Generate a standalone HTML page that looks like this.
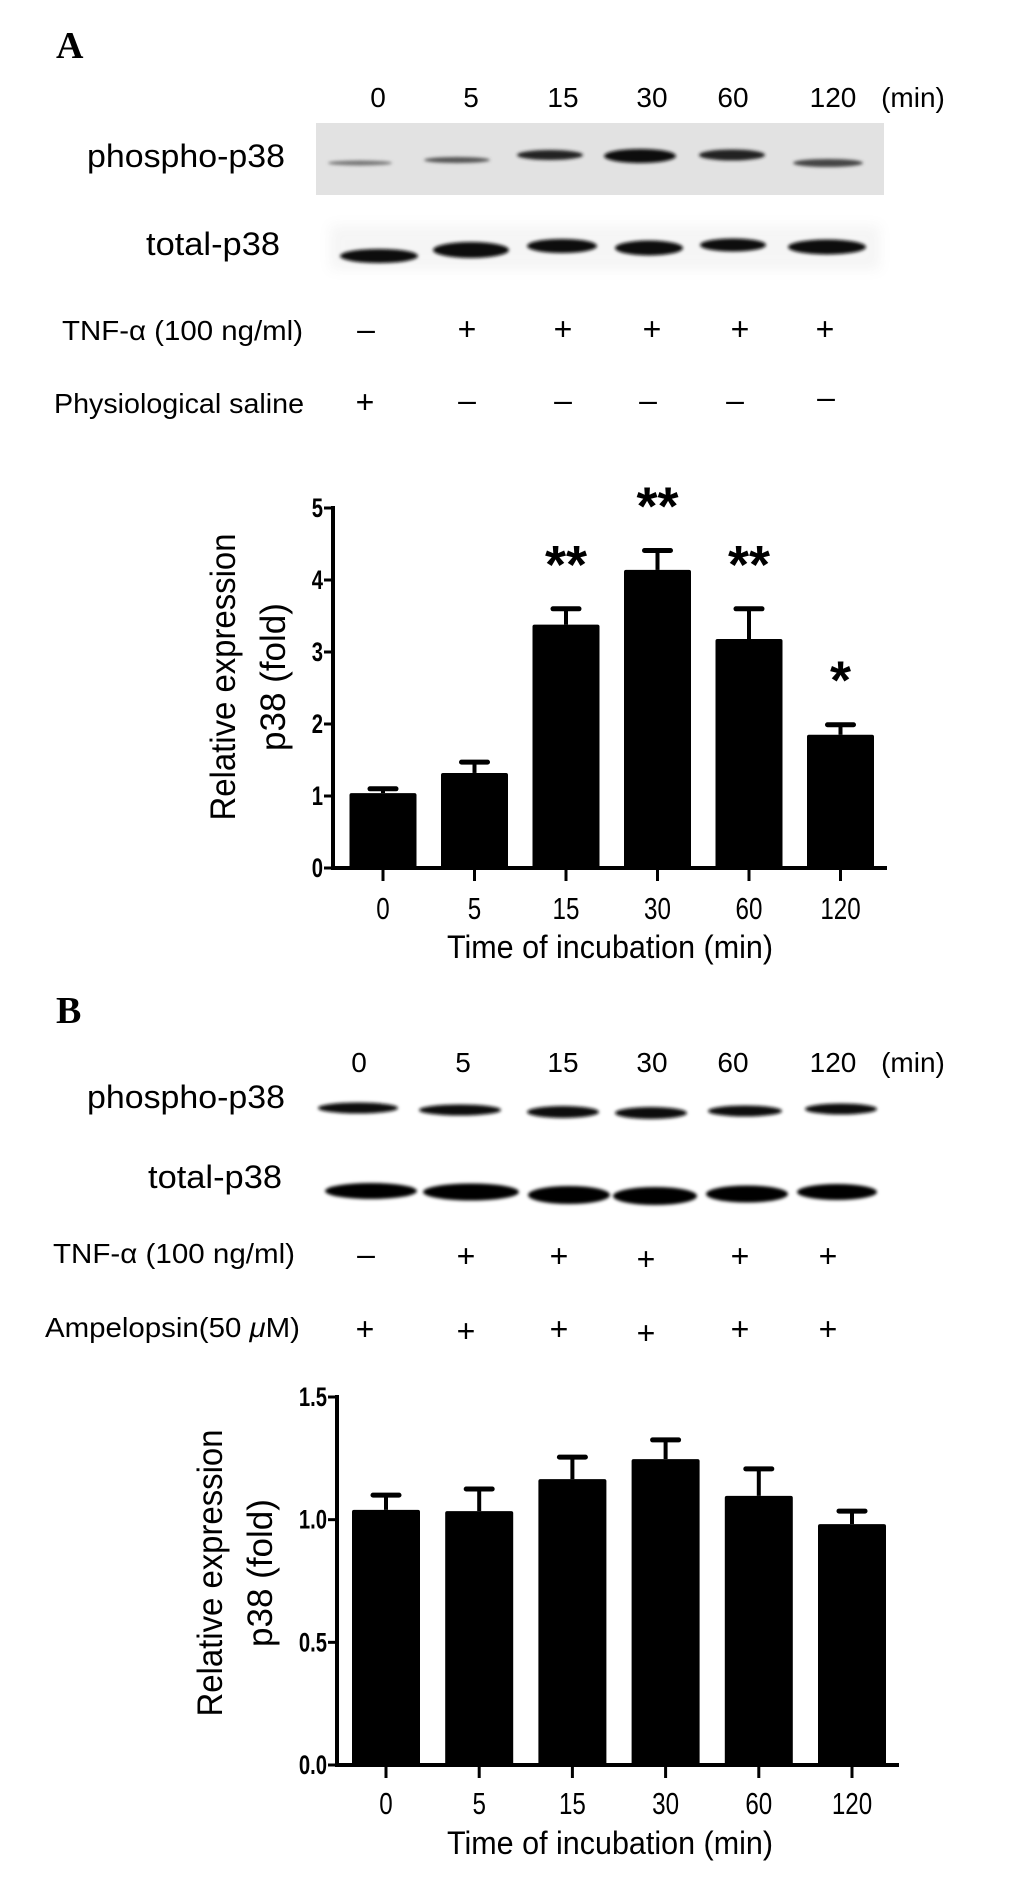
<!DOCTYPE html>
<html><head><meta charset="utf-8"><style>
html,body{margin:0;padding:0;background:#fff;}
svg{display:block;font-family:"Liberation Sans","DejaVu Sans",sans-serif;}
</style></head><body>
<svg id="fig" width="1033" height="1903" viewBox="0 0 1033 1903" xmlns="http://www.w3.org/2000/svg">
<defs>
<filter id="blur1" x="-20%" y="-200%" width="140%" height="500%"><feGaussianBlur stdDeviation="1.6"/></filter>
<filter id="blur2" x="-20%" y="-200%" width="140%" height="500%"><feGaussianBlur stdDeviation="6"/></filter>
</defs>
<rect width="1033" height="1903" fill="#fff"/>

<!-- Panel A blots -->
<text x="56" y="58" font-family="Liberation Serif,serif" font-weight="bold" font-size="38">A</text>
<g font-size="28" text-anchor="middle">
<text x="378" y="107">0</text><text x="471" y="107">5</text><text x="563" y="107">15</text><text x="652" y="107">30</text><text x="733" y="107">60</text><text x="833" y="107">120</text><text x="913" y="107">(min)</text>
</g>
<text x="87" y="167" font-size="32" textLength="198" lengthAdjust="spacingAndGlyphs">phospho-p38</text>
<text x="146" y="255" font-size="32" textLength="134" lengthAdjust="spacingAndGlyphs">total-p38</text>
<g>
<rect x="316" y="123" width="568" height="72" fill="#e2e2e2"/>
<g filter="url(#blur1)" fill="#222">
<ellipse cx="360" cy="163" rx="32" ry="2.5" fill="#777"/>
<ellipse cx="457" cy="160" rx="33" ry="3" fill="#555"/>
<ellipse cx="550" cy="155" rx="33" ry="5"/>
<ellipse cx="640" cy="156" rx="36" ry="7" fill="#111"/>
<ellipse cx="732" cy="155" rx="33" ry="5.5"/>
<ellipse cx="828" cy="163" rx="35" ry="4" fill="#444"/>
</g></g>
<g fill="#0a0a0a">
<g filter="url(#blur2)" opacity="0.08"><rect x="330" y="225" width="550" height="45" fill="#888"/></g>
<g filter="url(#blur1)">
<ellipse cx="379" cy="256" rx="39" ry="7"/>
<ellipse cx="471" cy="250" rx="38" ry="8"/>
<ellipse cx="562" cy="246" rx="35" ry="7"/>
<ellipse cx="649" cy="248" rx="34" ry="7.5"/>
<ellipse cx="733" cy="245" rx="33" ry="6.5"/>
<ellipse cx="827" cy="247" rx="39" ry="7.5"/>
</g></g>
<text x="62" y="340" font-size="28" textLength="241" lengthAdjust="spacingAndGlyphs">TNF-α (100 ng/ml)</text>
<text x="54" y="413" font-size="28" textLength="250" lengthAdjust="spacingAndGlyphs">Physiological saline</text>
<g font-size="32" text-anchor="middle">
<text x="366" y="340">–</text><text x="467" y="340">+</text><text x="563" y="340">+</text><text x="652" y="340">+</text><text x="740" y="340">+</text><text x="825" y="340">+</text>
</g>
<g font-size="32" text-anchor="middle">
<text x="365" y="413">+</text><text x="467" y="411">–</text><text x="563" y="411">–</text><text x="648" y="411">–</text><text x="735" y="411">–</text><text x="826" y="408">–</text>
</g>

<g id="chartA"></g>

<!-- Panel B blots -->
<text x="56" y="1023" font-family="Liberation Serif,serif" font-weight="bold" font-size="38">B</text>
<g font-size="28" text-anchor="middle">
<text x="359" y="1072">0</text><text x="463" y="1072">5</text><text x="563" y="1072">15</text><text x="652" y="1072">30</text><text x="733" y="1072">60</text><text x="833" y="1072">120</text><text x="913" y="1072">(min)</text>
</g>
<text x="87" y="1108" font-size="32" textLength="198" lengthAdjust="spacingAndGlyphs">phospho-p38</text>
<text x="148" y="1188" font-size="32" textLength="134" lengthAdjust="spacingAndGlyphs">total-p38</text>
<g fill="#111" filter="url(#blur1)">
<ellipse cx="358" cy="1108" rx="40" ry="5.5"/>
<ellipse cx="460" cy="1110" rx="41" ry="5.5"/>
<ellipse cx="563" cy="1112" rx="36" ry="6"/>
<ellipse cx="651" cy="1113" rx="36" ry="6"/>
<ellipse cx="745" cy="1111" rx="37" ry="5.5"/>
<ellipse cx="841" cy="1109" rx="36" ry="5.5"/>
</g>
<g fill="#050505" filter="url(#blur1)">
<ellipse cx="371" cy="1191" rx="46" ry="8"/>
<ellipse cx="471" cy="1192" rx="48" ry="8.5"/>
<ellipse cx="569" cy="1195" rx="41" ry="9"/>
<ellipse cx="655" cy="1196" rx="42" ry="9"/>
<ellipse cx="747" cy="1194" rx="41" ry="8.5"/>
<ellipse cx="837" cy="1192" rx="40" ry="8"/>
</g>
<text x="53" y="1263" font-size="28" textLength="242" lengthAdjust="spacingAndGlyphs">TNF-α (100 ng/ml)</text>
<text x="45" y="1337" font-size="28" textLength="255" lengthAdjust="spacingAndGlyphs">Ampelopsin(50 <tspan font-style="italic">μ</tspan>M)</text>
<g font-size="32" text-anchor="middle">
<text x="366" y="1265">–</text><text x="466" y="1267">+</text><text x="559" y="1267">+</text><text x="646" y="1270">+</text><text x="740" y="1267">+</text><text x="828" y="1267">+</text>
</g>
<g font-size="32" text-anchor="middle">
<text x="365" y="1340">+</text><text x="466" y="1342">+</text><text x="559" y="1340">+</text><text x="646" y="1344">+</text><text x="740" y="1340">+</text><text x="828" y="1340">+</text>
</g>

<g id="chartB"></g>
</svg>
<script>
const categories = ["0","5","15","30","60","120"];
const valuesA = [1.04, 1.32, 3.38, 4.14, 3.18, 1.85];
const errorsA = [0.06, 0.15, 0.22, 0.27, 0.42, 0.14];
const starsA = ["", "", "**", "**", "**", "*"];
const ticksA = [0, 1, 2, 3, 4, 5];
const tickLabelsA = ["0", "1", "2", "3", "4", "5"];
const valuesB = [1.04, 1.035, 1.165, 1.247, 1.097, 0.982];
const errorsB = [0.06, 0.09, 0.09, 0.078, 0.11, 0.053];
const ticksB = [0, 0.5, 1.0, 1.5];
const tickLabelsB = ["0.0", "0.5", "1.0", "1.5"];

const NS = "http://www.w3.org/2000/svg";
function mk(parent, tag, attrs, txt) {
  const e = document.createElementNS(NS, tag);
  for (const k in attrs) e.setAttribute(k, attrs[k]);
  if (txt !== undefined) e.textContent = txt;
  parent.appendChild(e);
  return e;
}
function sx(cx, s) { return "translate(" + cx + " 0) scale(" + s + " 1) translate(" + (-cx) + " 0)"; }
function drawChart(g, cfg) {
  const x = i => cfg.x0 + cfg.step * i;
  const y = v => cfg.yZero - (v / cfg.yMax) * (cfg.yZero - cfg.yTop);
  cfg.values.forEach((v, i) => {
    const eb = mk(g, "line", {x1: x(i), x2: x(i), y1: y(v), y2: y(v + cfg.errors[i]), stroke: "#000", "stroke-width": 4});
    
    
    const cap = mk(g, "line", {x1: x(i) - 13, x2: x(i) + 13, y1: y(v + cfg.errors[i]), y2: y(v + cfg.errors[i]), stroke: "#000", "stroke-width": 5, "stroke-linecap": "round"});
    
    
    const b = mk(g, "rect", {x: x(i) - cfg.bw / 2, y: y(v), width: cfg.bw, height: y(0) - y(v), fill: "#000", rx: 2});
    
    
    if (cfg.stars && cfg.stars[i]) {
      const s = mk(g, "text", {x: x(i), y: y(v + cfg.errors[i]) - 60 + 34, "text-anchor": "middle", "font-size": 54, "font-weight": "bold"}, cfg.stars[i]);
      
      
    }
    const tk = mk(g, "line", {x1: x(i), x2: x(i), y1: cfg.yZero, y2: cfg.yZero + 13, stroke: "#000", "stroke-width": 3});
    
    
    const tl = mk(g, "text", {x: x(i), y: cfg.xLblY, "text-anchor": "middle", "font-size": 31, transform: sx(x(i), 0.78)}, categories[i]);
    
    
  });
  const ya = mk(g, "line", {x1: cfg.ax, x2: cfg.ax, y1: cfg.yTop - 2, y2: cfg.yZero + 2, stroke: "#000", "stroke-width": 4});
  
  
  const xa = mk(g, "line", {x1: cfg.ax - 2, x2: cfg.axEnd, y1: cfg.yZero, y2: cfg.yZero, stroke: "#000", "stroke-width": 4});
  
  
  cfg.ticks.forEach((t, k) => {
    const tm = mk(g, "line", {x1: cfg.ax - 9, x2: cfg.ax, y1: y(t), y2: y(t), stroke: "#000", "stroke-width": 3});
    
    
    const tl = mk(g, "text", {x: cfg.ax - 10, y: y(t) + 9, "text-anchor": "end", "font-size": 27, "font-weight": "bold", transform: sx(cfg.ax - 10, 0.75)}, cfg.tickLabels[k]);
    
    
  });
  const xt = mk(g, "text", {x: 610, y: cfg.titleY, "text-anchor": "middle", "font-size": 32, textLength: 326, lengthAdjust: "spacingAndGlyphs"}, "Time of incubation (min)");
  
  
  const yt = mk(g, "text", {transform: "translate(" + cfg.ytX + " " + cfg.ytY + ") rotate(-90)", "text-anchor": "middle", "font-size": 35}, "");
  
  
  mk(yt, "tspan", {x: 0, y: 0, textLength: 287, lengthAdjust: "spacingAndGlyphs"}, "Relative expression");
  mk(yt, "tspan", {x: 0, y: 50}, "p38 (fold)");
}
drawChart(document.getElementById("chartA"), {
  values: valuesA, errors: errorsA, stars: starsA, ticks: ticksA, tickLabels: tickLabelsA,
  x0: 383, step: 91.5, bw: 67, yZero: 868, yTop: 508, yMax: 5, ax: 333, axEnd: 887,
  xLblY: 919, titleY: 958, ytX: 235, ytY: 677
});
drawChart(document.getElementById("chartB"), {
  values: valuesB, errors: errorsB, stars: null, ticks: ticksB, tickLabels: tickLabelsB,
  x0: 386, step: 93.2, bw: 68, yZero: 1765, yTop: 1397, yMax: 1.5, ax: 337, axEnd: 899,
  xLblY: 1814, titleY: 1854, ytX: 222, ytY: 1573
});
</script>
</body></html>
